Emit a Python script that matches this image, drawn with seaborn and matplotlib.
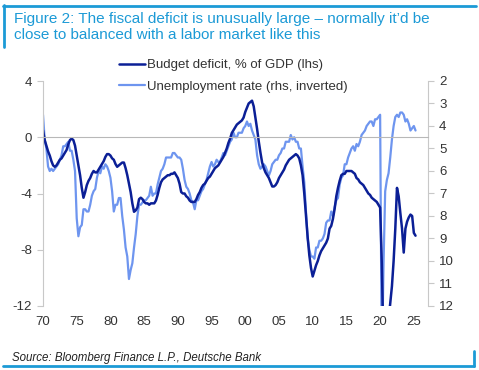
import numpy as np
import pandas as pd
import matplotlib.pyplot as plt
from matplotlib.lines import Line2D
import seaborn as sns


# Data: quarterly readings, first point = 1970 Q1
start_year = 1970

deficit = [
    0.5, -0.2, -0.6, -1.0,      # 1970
    -1.3, -1.7, -2.0, -2.1,     # 1971
    -2.0, -1.8, -1.6, -1.5,     # 1972
    -1.3, -1.1, -0.9, -0.5,     # 1973
    -0.2, -0.1, -0.2, -0.6,     # 1974
    -1.3, -2.0, -2.7, -3.6,     # 1975
    -4.3, -3.9, -3.4, -3.1,     # 1976
    -2.9, -2.6, -2.4, -2.5,     # 1977
    -2.5, -2.3, -2.1, -1.9,     # 1978
    -1.7, -1.4, -1.2, -1.2,     # 1979
    -1.3, -1.5, -1.6, -1.9,     # 1980
    -2.1, -2.0, -1.9, -1.8,     # 1981
    -1.8, -2.2, -2.7, -3.3,     # 1982
    -3.9, -4.7, -5.3, -5.2,     # 1983
    -5.0, -4.4, -4.3, -4.4,     # 1984
    -4.6, -4.7, -4.7, -4.8,     # 1985
    -4.7, -4.7, -4.7, -4.5,     # 1986
    -4.1, -3.6, -3.2, -3.0,     # 1987
    -2.9, -2.8, -2.7, -2.7,     # 1988
    -2.6, -2.6, -2.5, -2.7,     # 1989
    -2.9, -3.3, -3.9, -4.0,     # 1990
    -4.0, -4.2, -4.3, -4.5,     # 1991
    -4.6, -4.6, -4.6, -4.4,     # 1992
    -4.1, -3.9, -3.6, -3.4,     # 1993
    -3.3, -3.1, -2.9, -2.8,     # 1994
    -2.6, -2.4, -2.2, -2.1,     # 1995
    -2.0, -1.8, -1.6, -1.4,     # 1996
    -1.1, -0.8, -0.4, -0.1,     # 1997
    0.3, 0.5, 0.7, 0.9,         # 1998
    1.0, 1.1, 1.2, 1.4,         # 1999
    1.8, 2.1, 2.4, 2.5,         # 2000
    2.6, 2.2, 1.4, 0.6,         # 2001
    -0.3, -1.1, -1.8, -2.2,     # 2002
    -2.5, -2.7, -2.9, -3.2,     # 2003
    -3.5, -3.5, -3.4, -3.2,     # 2004
    -2.9, -2.7, -2.5, -2.3,     # 2005
    -2.0, -1.8, -1.6, -1.5,     # 2006
    -1.4, -1.3, -1.2, -1.3,     # 2007
    -1.5, -2.0, -2.7, -4.0,     # 2008
    -5.6, -7.1, -8.4, -9.3,     # 2009
    -9.9, -9.5, -9.1, -8.8,     # 2010
    -8.4, -8.1, -7.9, -7.7,     # 2011
    -7.5, -7.2, -6.5, -6.3,     # 2012
    -5.8, -5.1, -4.2, -3.6,     # 2013
    -3.1, -2.7, -2.6, -2.6,     # 2014
    -2.4, -2.4, -2.4, -2.4,     # 2015
    -2.5, -2.6, -2.9, -3.0,     # 2016
    -3.2, -3.3, -3.4, -3.6,     # 2017
    -3.8, -4.0, -4.1, -4.3,     # 2018
    -4.4, -4.5, -4.6, -4.8,     # 2019
    -5.0, -9.0, -15.0, -16.5,   # 2020
    -18.0, -13.0, -11.8, -10.6, # 2021
    -8.8, -6.5, -3.6, -4.2,     # 2022
    -5.4, -6.5, -8.2, -6.5,     # 2023
    -6.0, -5.7, -5.5, -5.6,     # 2024
    -6.8, -7.0,                 # 2025
]

unemployment = [
    3.5, 4.6, 5.0, 5.8,     # 1970
    6.0, 5.9, 6.0, 5.9,     # 1971
    5.8, 5.7, 5.5, 5.3,     # 1972
    4.9, 4.9, 4.8, 4.7,     # 1973
    5.1, 5.1, 5.5, 6.0,     # 1974
    8.1, 8.9, 8.5, 8.4,     # 1975
    7.7, 7.7, 7.8, 7.8,     # 1976
    7.5, 7.1, 6.9, 6.8,     # 1977
    6.3, 6.0, 6.1, 5.8,     # 1978
    5.9, 5.7, 5.8, 6.0,     # 1979
    6.3, 6.9, 7.8, 7.5,     # 1980
    7.5, 7.2, 7.2, 8.0,     # 1981
    8.6, 9.4, 9.8, 10.8,    # 1982
    10.4, 10.1, 9.4, 8.8,   # 1983
    8.0, 7.5, 7.5, 7.4,     # 1984
    7.3, 7.3, 7.2, 7.1,     # 1985
    6.7, 7.1, 7.0, 7.0,     # 1986
    6.6, 6.3, 6.0, 5.9,     # 1987
    5.7, 5.4, 5.4, 5.4,     # 1988
    5.4, 5.2, 5.2, 5.3,     # 1989
    5.4, 5.4, 5.5, 5.9,     # 1990
    6.4, 6.7, 6.8, 7.0,     # 1991
    7.3, 7.4, 7.7, 7.3,     # 1992
    7.3, 7.1, 6.9, 6.8,     # 1993
    6.6, 6.4, 6.1, 5.8,     # 1994
    5.6, 5.8, 5.7, 5.5,     # 1995
    5.6, 5.6, 5.4, 5.2,     # 1996
    5.3, 5.1, 4.9, 4.7,     # 1997
    4.6, 4.3, 4.5, 4.5,     # 1998
    4.3, 4.3, 4.3, 4.1,     # 1999
    4.0, 3.8, 4.0, 3.9,     # 2000
    4.2, 4.4, 4.6, 5.3,     # 2001
    5.7, 5.9, 5.8, 5.7,     # 2002
    5.8, 6.0, 6.2, 6.0,     # 2003
    5.7, 5.6, 5.5, 5.5,     # 2004
    5.3, 5.2, 5.0, 5.0,     # 2005
    4.7, 4.7, 4.7, 4.4,     # 2006
    4.6, 4.5, 4.7, 4.7,     # 2007
    5.0, 5.0, 5.8, 6.5,     # 2008
    7.8, 9.0, 9.5, 9.8,     # 2009
    9.8, 9.9, 9.4, 9.4,     # 2010
    9.1, 9.1, 9.0, 8.8,     # 2011
    8.3, 8.2, 8.2, 7.8,     # 2012
    8.0, 7.6, 7.3, 7.2,     # 2013
    6.6, 6.3, 6.2, 5.7,     # 2014
    5.7, 5.4, 5.2, 5.0,     # 2015
    4.9, 5.1, 4.8, 4.9,     # 2016
    4.7, 4.4, 4.3, 4.2,     # 2017
    4.0, 3.9, 3.8, 3.8,     # 2018
    4.0, 3.7, 3.7, 3.6,     # 2019
    3.5, 14.8, 10.2, 6.9,   # 2020
    6.4, 6.1, 5.4, 4.6,     # 2021
    4.0, 3.6, 3.5, 3.6,     # 2022
    3.4, 3.4, 3.5, 3.8,     # 2023
    3.7, 3.9, 4.2, 4.1,     # 2024
    4.0, 4.2,               # 2025
]

year_ticks = [1970, 1975, 1980, 1985, 1990, 1995, 2000, 2005, 2010, 2015, 2020, 2025]
year_labels = ['70', '75', '80', '85', '90', '95', '00', '05', '10', '15', '20', '25']
lhs_ticks = [4, 0, -4, -8, -12]
rhs_ticks = [2, 3, 4, 5, 6, 7, 8, 9, 10, 11, 12]

df = pd.DataFrame({
    'year': start_year + np.arange(len(deficit)) / 4,
    'deficit': deficit,
    'unemployment': unemployment,
})

sns.set_style('white')
plt.rcParams['font.family'] = ['Liberation Sans', 'DejaVu Sans']

dark = '#0b1f96'
light = '#6e95ef'
accent = '#1c9ad6'
grey = '#c8c8c8'
text_col = '#333333'
tick_fs = 9.5

fig = plt.figure(figsize=(4.79, 3.70), dpi=100)
ax1 = fig.add_axes([43 / 479, 64 / 370, 385 / 479, 225 / 370])
ax2 = ax1.twinx()

sns.lineplot(data=df, x='year', y='unemployment', ax=ax2, color=light,
             linewidth=1.6, label='Unemployment rate (rhs, inverted)')
sns.lineplot(data=df, x='year', y='deficit', ax=ax1, color=dark,
             linewidth=1.8, label='Budget deficit, % of GDP (lhs)')
ax1.set_zorder(ax2.get_zorder() + 1)
ax1.patch.set_visible(False)

h1, l1 = ax1.get_legend_handles_labels()
h2, l2 = ax2.get_legend_handles_labels()
for a in (ax1, ax2):
    if a.get_legend() is not None:
        a.get_legend().remove()

ax1.set_xlim(1970, 2027.1)
ax1.set_ylim(-12, 4)
ax2.set_ylim(12, 2)
ax1.set_xlabel('')
ax1.set_ylabel('')
ax2.set_ylabel('')

# left axis
ax1.set_yticks(lhs_ticks)
ax1.set_yticklabels([str(t) for t in lhs_ticks])
for s in ['top', 'right']:
    ax1.spines[s].set_visible(False)
ax1.spines['left'].set_color(grey)
ax1.spines['bottom'].set_position(('data', 0))
ax1.spines['bottom'].set_color('#b8b8b8')
ax1.set_xticks(year_ticks)
ax1.tick_params(axis='x', direction='in', length=4, color='#b8b8b8',
                labelbottom=False)
ax1.tick_params(axis='y', direction='out', length=4, color=grey,
                labelsize=tick_fs, labelcolor=text_col, pad=4)

# right axis
ax2.set_yticks(rhs_ticks)
for s in ['top', 'left', 'bottom']:
    ax2.spines[s].set_visible(False)
ax2.spines['right'].set_color(grey)
ax2.tick_params(axis='y', direction='out', length=4, color=grey,
                labelsize=tick_fs, labelcolor=text_col, pad=4)

# year labels at the bottom
sec = ax1.secondary_xaxis('bottom')
sec.set_xticks(year_ticks)
sec.set_xticklabels(year_labels)
sec.tick_params(length=0, pad=7.5, labelsize=tick_fs, labelcolor=text_col)
sec.spines['bottom'].set_visible(False)

fig.legend(h1 + h2, l1 + l2, loc='upper left',
           bbox_to_anchor=(119 / 479, 1 - 59 / 370), frameon=False,
           fontsize=9.5, handlelength=2.0, handletextpad=0.15,
           labelspacing=0.71, borderpad=0, borderaxespad=0,
           labelcolor=text_col)

# title and source
fig.text(14 / 479, 1 - 11.5 / 370,
         'Figure 2: The fiscal deficit is unusually large \u2013 normally it\u2019d be\n'
         'close to balanced with a labor market like this',
         color=accent, fontsize=11, va='top', ha='left', linespacing=1.22)
fig.text(12 / 479, 1 - 358 / 370,
         'Source: Bloomberg Finance L.P., Deutsche Bank',
         color='#222222', fontsize=8.3, style='italic', va='center', ha='left')

# frame lines
fig.add_artist(Line2D([3 / 479, 476 / 479], [1 - 5.5 / 370] * 2, color=accent, lw=2))
fig.add_artist(Line2D([4 / 479] * 2, [1 - 5 / 370, 1 - 47 / 370], color=accent, lw=2))
fig.add_artist(Line2D([3 / 479, 474 / 479], [1 - 366 / 370] * 2, color=accent, lw=2))
fig.add_artist(Line2D([473.5 / 479] * 2, [1 - 351 / 370, 1 - 366 / 370], color=accent, lw=2))

plt.savefig('out.png', dpi=100)
